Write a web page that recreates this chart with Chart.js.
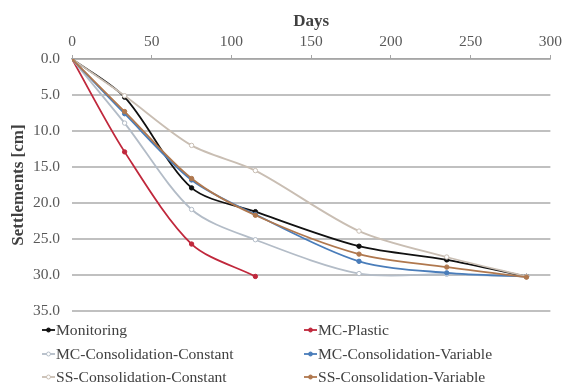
<!DOCTYPE html>
<html>
<head>
<meta charset="utf-8">
<script src="https://cdn.jsdelivr.net/npm/chart.js@4/dist/chart.umd.min.js"></script>
<style>
html,body{margin:0;padding:0;background:#fff;}
#wrap{position:relative;width:566px;height:385px;}
</style>
</head>
<body>
<div id="wrap"><canvas id="c" width="566" height="385"></canvas></div>
<script>
const seriesNames = ["Monitoring","MC-Plastic","MC-Consolidation-Constant","MC-Consolidation-Variable","SS-Consolidation-Constant","SS-Consolidation-Variable"];
const modelDays = [0, 33, 75, 115, 180, 235, 285];
const plasticDays = [0, 33, 75, 115];
const monitoring = [0, 5.3, 17.9, 21.2, 26.0, 27.9, 30.2];
const mcPlastic = [0, 12.9, 25.7, 30.2];
const mcConsConstant = [0, 8.9, 20.9, 25.1, 29.8, 29.9, 30.2];
const mcConsVariable = [0, 7.6, 16.8, 21.6, 28.1, 29.7, 30.2];
const ssConsConstant = [0, 5.1, 12.0, 15.5, 23.9, 27.5, 30.2];
const ssConsVariable = [0, 7.3, 16.6, 21.7, 27.1, 28.9, 30.3];
const xTicks = [0, 50, 100, 150, 200, 250, 300];
const yTicks = [0, 5, 10, 15, 20, 25, 30, 35];

const colors = ["#111111","#c0283c","#b3bcc7","#4a7dba","#c9beb3","#b0784e"];
const fills = ["#111111","#c0283c","#ffffff","#4a7dba","#ffffff","#b0784e"];
const dayArr = [modelDays, plasticDays, modelDays, modelDays, modelDays, modelDays];
const valArr = [monitoring, mcPlastic, mcConsConstant, mcConsVariable, ssConsConstant, ssConsVariable];

const datasets = seriesNames.map((n, i) => ({
  label: n,
  data: dayArr[i].map((d, k) => ({x: d, y: valArr[i][k]})),
  borderColor: colors[i],
  backgroundColor: fills[i],
  pointBackgroundColor: fills[i],
  pointBorderColor: colors[i],
  pointBorderWidth: 1,
  pointRadius: 2.2,
  borderWidth: 1.8,
  tension: 0.3,
  fill: false,
  order: 5 - i
}));

const FONT = "'Liberation Serif', 'Times New Roman', serif";

const legendPlugin = {
  id: 'customLegend',
  afterDraw(chart) {
    const ctx = chart.ctx;
    const cols = [42, 304];
    const rows = [330, 354, 377];
    ctx.save();
    ctx.font = "15.6px " + FONT;
    ctx.textBaseline = 'middle';
    ctx.textAlign = 'left';
    chart.data.datasets.forEach((ds, i) => {
      const x = cols[i % 2], y = rows[Math.floor(i / 2)];
      ctx.strokeStyle = ds.borderColor;
      ctx.lineWidth = 1.8;
      ctx.beginPath(); ctx.moveTo(x, y); ctx.lineTo(x + 13, y); ctx.stroke();
      ctx.beginPath(); ctx.arc(x + 6.5, y, 2, 0, Math.PI * 2);
      ctx.fillStyle = ds.pointBackgroundColor; ctx.fill();
      ctx.lineWidth = 1; ctx.strokeStyle = ds.borderColor; ctx.stroke();
      ctx.fillStyle = '#404040';
      ctx.fillText(ds.label, x + 14, y + 1);
    });
    ctx.restore();
  }
};

new Chart(document.getElementById('c'), {
  type: 'line',
  data: { datasets },
  plugins: [legendPlugin],
  options: {
    responsive: false,
    animation: false,
    layout: { padding: { left: 0, right: 14, top: 0, bottom: 74 } },
    plugins: { legend: { display: false }, tooltip: { enabled: false } },
    scales: {
      x: {
        type: 'linear',
        position: 'top',
        min: 0, max: 300,
        afterBuildTicks: s => { s.ticks = xTicks.map(v => ({value: v})); },
        afterFit: s => { s.height = 59; },
        ticks: { color: '#595959', font: { family: FONT, size: 15.5 }, padding: 4, maxRotation: 0 },
        grid: { drawOnChartArea: false, drawTicks: true, tickLength: 4, color: '#a6a6a6', lineWidth: 1 },
        border: { display: true, color: '#a6a6a6', width: 1.5 },
        title: { display: true, text: 'Days', color: '#404040', font: { family: FONT, size: 17, weight: 'bold' }, padding: { top: 11, bottom: 0 } }
      },
      y: {
        type: 'linear',
        reverse: true,
        min: 0, max: 35,
        afterBuildTicks: s => { s.ticks = yTicks.map(v => ({value: v})); },
        afterFit: s => { s.width = 72; },
        ticks: { color: '#595959', font: { family: FONT, size: 15.5 }, padding: 12, callback: v => v.toFixed(1) },
        grid: { color: '#c0c0c0', lineWidth: 2, drawTicks: false },
        border: { display: false },
        title: { display: true, text: 'Settlements [cm]', color: '#404040', font: { family: FONT, size: 17, weight: 'bold' }, padding: { top: 8, bottom: 4 } }
      }
    }
  }
});
</script>
</body>
</html>
